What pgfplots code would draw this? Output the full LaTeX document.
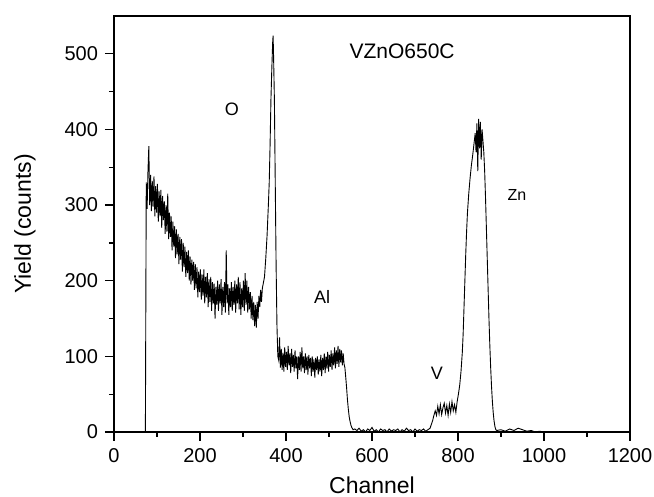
\documentclass[border=0pt]{standalone}
\usepackage{fontspec}
\setmainfont{Liberation Sans}
\usepackage{pgfplots}
\pgfplotsset{compat=1.18}
\usetikzlibrary{calc}

\pgfplotstableread{
x y
73 0
75 330
77 295
79 345
81 378
83 300
85 340
87 292
89 332
91 298
93 338
95 285
97 325
99 290
101 328
103 278
105 318
107 285
109 320
111 270
113 312
115 280
117 305
119 262
121 300
123 265
125 315
127 255
129 290
131 258
133 285
135 240
137 278
139 245
141 272
143 230
145 268
147 235
149 262
151 222
153 258
155 228
157 255
159 212
161 250
163 218
165 245
167 205
169 238
171 210
173 240
175 200
177 232
179 195
181 228
183 200
185 225
187 188
189 222
191 190
193 218
195 178
197 212
199 185
201 215
203 175
205 208
207 180
209 215
211 170
213 205
215 178
217 210
219 165
221 202
223 172
225 205
227 160
229 198
231 170
233 196
235 150
237 192
239 168
241 200
243 160
245 195
247 170
249 202
251 155
253 192
255 165
257 198
259 158
261 240
263 170
265 195
267 155
269 190
271 165
273 198
275 160
277 192
279 168
281 200
283 158
285 195
287 170
289 205
291 162
293 198
295 155
297 190
299 165
301 200
303 160
305 210
307 168
309 200
311 158
313 192
315 162
317 185
319 150
321 180
323 148
325 172
327 140
329 168
331 138
333 172
335 150
337 180
339 165
341 188
343 172
345 190
350 205
353 230
356 260
359 300
361 330
363 380
365 440
367 480
369 515
370 524
371 500
373 440
375 330
377 220
379 140
381 100
383 95
385 125
387 85
389 110
391 82
393 105
395 80
397 112
399 86
401 106
403 82
405 114
407 88
409 104
411 78
413 110
415 86
417 102
419 80
421 108
423 84
425 100
427 70
429 100
431 82
433 106
435 80
437 112
439 84
441 100
443 78
445 104
447 82
449 100
451 76
453 102
455 84
457 98
459 74
461 100
463 80
465 96
467 72
469 98
471 82
473 100
475 76
477 96
479 80
481 102
483 74
485 98
487 82
489 104
491 78
493 100
495 84
497 106
499 80
501 102
503 86
505 108
507 82
509 104
511 88
513 112
515 84
517 108
519 90
521 114
523 86
525 110
527 92
529 108
531 88
533 104
535 90
537 85
539 72
541 58
543 42
545 30
547 20
549 14
551 9
553 6
556 3
560 4
565 2
570 5
575 1
580 3
585 0
590 4
595 2
600 6
605 1
610 3
615 0
620 4
625 2
630 3
635 0
640 4
645 1
650 3
655 2
660 4
665 0
670 3
675 1
680 5
685 2
690 3
695 0
700 4
705 1
710 3
715 2
720 4
725 1
730 3
735 5
738 10
741 15
744 22
747 28
750 22
753 34
756 24
759 36
762 23
765 32
768 38
771 25
774 35
777 22
780 37
783 26
786 40
789 28
792 36
795 26
798 40
801 50
804 62
807 80
810 105
812 130
814 165
816 200
818 235
820 265
822 290
825 315
828 335
831 352
834 365
837 380
840 395
842 370
844 408
846 345
848 414
850 375
852 410
854 360
856 400
858 385
860 370
862 345
864 310
866 270
868 230
870 190
872 150
874 115
876 85
878 60
880 40
882 25
884 14
886 7
888 3
890 2
900 3
910 1
920 4
930 2
940 5
950 3
960 1
970 2
980 0
990 1
1000 0
}\spectrum

\begin{document}
\begin{tikzpicture}
\begin{axis}[
  name=ax,
  scale only axis,
  width=258pt, height=208pt,
  xmin=0, xmax=1200, ymin=0, ymax=550,
  xtick={0,200,...,1200}, ytick={0,100,...,500},
  minor x tick num=1, minor y tick num=1,
  tick pos=left, tick align=outside,
  major tick length=4.5pt, minor tick length=2.5pt,
  every tick/.style={black, line width=0.6pt},
  axis line style={line width=0.85pt},
  /pgf/number format/assume math mode=true,
  /pgf/number format/1000 sep={},
  tick label style={font=\fontsize{10}{12}\selectfont},
  xlabel={Channel}, ylabel={Yield (counts)},
  label style={font=\fontsize{11.5}{13}\selectfont},
  xlabel style={at={(axis description cs:0.5,-0.149)}, anchor=base, inner sep=0pt},
  ylabel style={at={(axis description cs:-0.1725,0.5)}, anchor=center},
]
\addplot[black, line width=0.45pt, mark=none] table[x=x, y=y] {\spectrum};
\node[font=\fontsize{10.5}{12}\selectfont] at (axis cs:670,503) {VZnO650C};
\node[font=\fontsize{9}{11}\selectfont] at (axis cs:274,426) {O};
\node[font=\fontsize{9}{11}\selectfont] at (axis cs:484,179) {Al};
\node[font=\fontsize{9}{11}\selectfont] at (axis cs:751,78) {V};
\node[font=\fontsize{8}{10}\selectfont] at (axis cs:937,313) {Zn};
\end{axis}
\pgfresetboundingbox
\useasboundingbox ($(ax.south west)+(-57pt,-32.5pt)$) rectangle ($(ax.north east)+(12pt,8pt)$);
\end{tikzpicture}
\end{document}
